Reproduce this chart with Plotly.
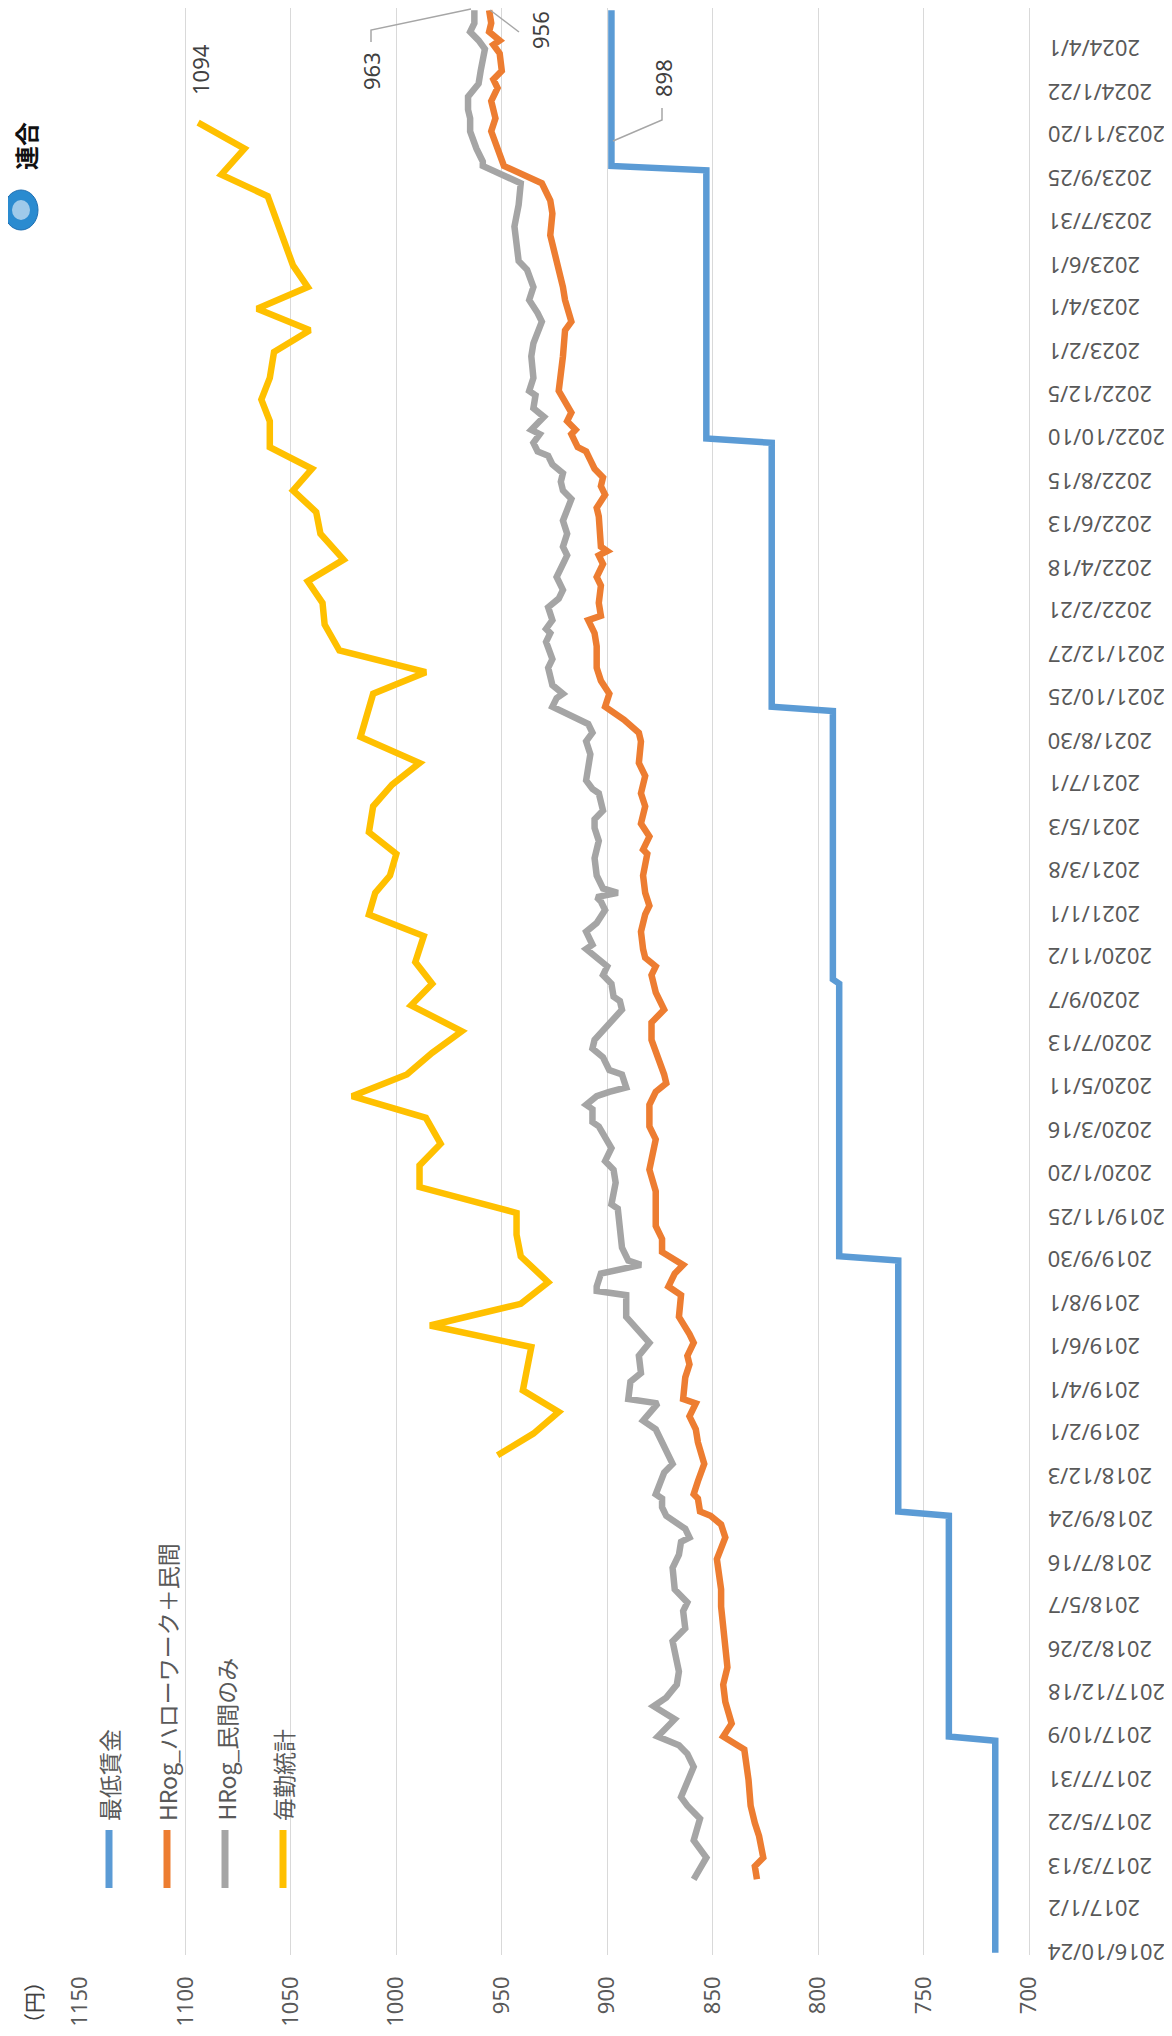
import plotly.graph_objects as go

# ---------------- data ----------------
tick_labels = ["2016/10/24", "2017/1/2", "2017/3/13", "2017/5/22", "2017/7/31", "2017/10/9",
               "2017/12/18", "2018/2/26", "2018/5/7", "2018/7/16", "2018/9/24", "2018/12/3",
               "2019/2/1", "2019/4/1", "2019/6/1", "2019/8/1", "2019/9/30", "2019/11/25",
               "2020/1/20", "2020/3/16", "2020/5/11", "2020/7/13", "2020/9/7", "2020/11/2",
               "2021/1/1", "2021/3/8", "2021/5/3", "2021/7/1", "2021/8/30", "2021/10/25",
               "2021/12/27", "2022/2/21", "2022/4/18", "2022/6/13", "2022/8/15", "2022/10/10",
               "2022/12/5", "2023/2/1", "2023/4/1", "2023/6/1", "2023/7/31", "2023/9/25",
               "2023/11/20", "2024/1/22", "2024/4/1"]
tick_idx = list(range(0, 450, 10))
n_categories = 450

value_ticks = [1150, 1100, 1050, 1000, 950, 900, 850, 800, 750, 700]

# 最低賃金 (category index, yen)
minwage_idx = [0, 49, 50, 101, 102, 160, 161, 224, 225, 287, 288, 349, 350, 412, 413, 449]
minwage_val = [716, 716, 738, 738, 762, 762, 790, 790, 793, 793, 822, 822, 853, 853, 898, 898]

# HRog_ハローワーク＋民間
hw_idx = [17, 20, 22, 27, 30, 34, 40, 47, 50, 53, 58, 62, 66, 71, 75, 80, 84, 91, 96, 99,
          101, 102, 105, 106, 109, 113, 118, 121, 124, 127, 128, 133, 136, 138, 141, 143, 147,
          152, 154, 157, 159, 162, 165, 168, 172, 176, 181, 188, 191, 196, 199, 201, 203, 207,
          211, 215, 218, 222, 226, 228, 230, 232, 236, 240, 242, 245, 249, 254, 255, 258, 261,
          265, 268, 272, 275, 280, 282, 285, 288, 291, 294, 297, 302, 305, 308, 309, 312, 316,
          318, 321, 323, 324, 325, 332, 334, 337, 339, 341, 343, 345, 347, 348, 350, 351, 352,
          354, 356, 359, 361, 369, 375, 377, 382, 385, 389, 392, 397, 402, 405, 409, 413, 421,
          424, 428, 431, 433, 435, 439, 441, 442, 444, 446, 449]
hw_val = [829, 830, 826, 828, 830, 832, 833, 835, 845, 841, 844, 845, 843, 844, 845, 846, 846, 848, 844, 846,
          851, 856, 857, 859, 857, 854, 857, 858, 861, 858, 864, 863, 861, 862, 859, 861, 866,
          865, 871, 868, 864, 874, 874, 877, 877, 877, 880, 877, 880, 880, 877, 872, 873, 876,
          879, 879, 873, 877, 879, 877, 882, 883, 884, 882, 880, 882, 883, 881, 883, 880, 884,
          882, 884, 882, 885, 884, 885, 892, 901, 899, 903, 905, 905, 906, 909, 903, 904, 903,
          905, 902, 904, 900, 903, 904, 905, 901, 903, 902, 906, 908, 910, 914, 916, 917, 915,
          919, 917, 921, 923, 921, 920, 917, 920, 921, 923, 924, 927, 926, 927, 931, 949, 955,
          953, 955, 952, 954, 950, 951, 954, 951, 956, 955, 956]

# HRog_民間のみ
pv_idx = [17, 22, 26, 31, 34, 36, 43, 46, 48, 50, 54, 57, 59, 62, 65, 69, 72, 75, 79, 81,
          84, 89, 92, 95, 96, 98, 101, 103, 105, 106, 111, 113, 117, 121, 123, 127, 128, 132,
          134, 138, 141, 143, 145, 147, 152, 153, 154, 157, 159, 160, 163, 168, 172, 173, 178,
          181, 183, 186, 189, 191, 192, 195, 196, 198, 199, 200, 203, 204, 207, 209, 211, 213,
          215, 218, 220, 221, 224, 226, 228, 232, 233, 236, 238, 241, 243, 244, 245, 246, 249,
          253, 257, 260, 262, 264, 268, 269, 271, 275, 277, 280, 282, 284, 288, 290, 291, 293,
          297, 299, 303, 305, 306, 308, 311, 313, 315, 318, 321, 323, 325, 328, 331, 336, 338,
          340, 342, 344, 346, 347, 349, 351, 352, 355, 357, 360, 361, 364, 369, 372, 377, 379,
          382, 385, 389, 391, 395, 399, 404, 409, 413, 414, 417, 421, 424, 426, 429, 430, 432,
          435, 440, 442, 444, 446, 449]
pv_val = [859, 853, 859, 856, 862, 865, 859, 862, 866, 876, 868, 878, 872, 867, 866, 868, 869, 863, 864, 862,
          868, 869, 866, 865, 861, 863, 872, 874, 874, 877, 873, 869, 873, 877, 883, 876, 890, 889,
          884, 885, 880, 884, 888, 891, 891, 905, 905, 903, 884, 890, 893, 894, 895, 898, 896,
          897, 901, 898, 902, 904, 907, 907, 910, 905, 899, 891, 893, 899, 902, 907, 906, 902,
          898, 893, 894, 897, 898, 902, 900, 910, 907, 910, 905, 901, 903, 905, 895, 902, 905,
          906, 904, 906, 906, 902, 904, 907, 910, 909, 908, 910, 907, 909, 926, 924, 921, 926,
          928, 926, 929, 927, 929, 926, 928, 923, 921, 924, 921, 919, 921, 919, 921, 917, 921,
          922, 921, 926, 928, 933, 935, 932, 936, 930, 935, 934, 937, 935, 936, 935, 931, 933,
          937, 935, 938, 942, 943, 944, 942, 941, 959, 959, 962, 965, 965, 966, 966, 964, 961,
          960, 958, 961, 965, 963, 963]

# 毎勤統計
mk_idx = [115, 120, 125, 130, 135, 140, 145, 150, 155, 161, 166, 171, 177, 182, 187, 193,
          198, 203, 208, 213, 219, 224, 229, 235, 240, 245, 249, 254, 259, 265, 270, 275, 281,
          286, 291, 296, 301, 307, 312, 317, 322, 328, 333, 338, 343, 348, 354, 359, 364, 370,
          375, 380, 385, 390, 395, 402, 406, 411, 417, 423]
mk_val = [952, 935, 923, 940, 938, 936, 984, 941, 928, 941, 943, 943, 989, 989, 979, 986,
          1021, 995, 983, 969, 993, 983, 991, 987, 1013, 1010, 1003, 1000, 1013, 1011, 1002, 989, 1017,
          1014, 1011, 986, 1027, 1034, 1035, 1042, 1025, 1036, 1038, 1049, 1040, 1060, 1060, 1064, 1060, 1058,
          1041, 1066, 1042, 1049, 1053, 1058, 1061, 1083, 1072, 1094]

series_names = ["最低賃金", "HRog_ハローワーク＋民間", "HRog_民間のみ", "毎勤統計"]
series_colors = ["#5B9BD5", "#ED7D31", "#A5A5A5", "#FFC000"]

# ---------------- layout geometry (pixels) ----------------
W, H = 1172, 2036
PL, PR, PT, PB = 72, 1021, 0, 1947


def px(p):
    return (p - PL) / (PR - PL)


def py(p):
    return (PB - p) / (PB - PT)


TXT = "#595959"
FONT_NUM = "Noto Sans"
FONT_JP = "Noto Sans CJK JP"

fig = go.Figure()
data = [(minwage_idx, minwage_val), (hw_idx, hw_val), (pv_idx, pv_val), (mk_idx, mk_val)]
for (idx, val), name, col in zip(data, series_names, series_colors):
    fig.add_trace(go.Scatter(x=val, y=idx, mode="lines", name=name,
                             line=dict(color=col, width=6.5), showlegend=False,
                             hoverinfo="skip"))

annotations = []
shapes = []

# category (date) labels on the right, upside-down
for i, lab in zip(tick_idx, tick_labels):
    annotations.append(dict(text=lab, xref="paper", yref="y", x=px(1038), y=i,
                            xanchor="left", yanchor="middle", textangle=180,
                            showarrow=False, font=dict(family=FONT_NUM, size=22, color=TXT)))

# unit label
annotations.append(dict(text="（円）", xref="paper", yref="paper", x=px(25), y=py(1995),
                        xanchor="center", yanchor="middle", textangle=-90, showarrow=False,
                        font=dict(family=FONT_JP, size=21, color="#404040")))

# legend (built by hand, rotated)
leg_x = [101, 159, 217, 275]
for lx, name, col in zip(leg_x, series_names, series_colors):
    shapes.append(dict(type="line", xref="paper", yref="paper", x0=px(lx), x1=px(lx),
                       y0=py(1822), y1=py(1880), line=dict(color=col, width=7)))
    annotations.append(dict(text=name, xref="paper", yref="paper", x=px(lx), y=py(1815),
                            xanchor="center", yanchor="bottom", textangle=-90, showarrow=False,
                            font=dict(family=FONT_JP, size=23, color=TXT)))

# data labels at series ends
labels = [("1094", 192, 62), ("963", 363, 63), ("956", 532, 22), ("898", 655, 70)]
for t, cx, cy in labels:
    annotations.append(dict(text=t, xref="paper", yref="paper", x=px(cx), y=py(cy),
                            xanchor="center", yanchor="middle", textangle=-90, showarrow=False,
                            font=dict(family=FONT_NUM, size=22, color="#404040")))

leaders = [[(363, 34), (363, 22), (463, 1)],
           [(482, 2), (511, 24)],
           [(654, 100), (654, 112), (605, 133)]]
for pts in leaders:
    path = "M " + " L ".join(f"{px(a):.5f},{py(b):.5f}" for a, b in pts)
    shapes.append(dict(type="path", xref="paper", yref="paper", path=path,
                       line=dict(color="#A6A6A6", width=1.5)))

# logo (連合)
shapes.append(dict(type="circle", xref="paper", yref="paper", x0=px(-4), x1=px(30),
                   y0=py(222), y1=py(182), fillcolor="#2A8BD0", line=dict(color="#1F6FB2", width=1)))
shapes.append(dict(type="circle", xref="paper", yref="paper", x0=px(4), x1=px(22),
                   y0=py(212), y1=py(192), fillcolor="rgba(255,255,255,0.55)", line=dict(width=0)))
annotations.append(dict(text="<b>連合</b>", xref="paper", yref="paper", x=px(17), y=py(138),
                        xanchor="center", yanchor="middle", textangle=-90, showarrow=False,
                        font=dict(family=FONT_JP, size=24, color="#111111")))

fig.update_layout(
    width=W, height=H,
    margin=dict(l=PL, r=W - PR, t=PT, b=H - PB, pad=0),
    plot_bgcolor="white", paper_bgcolor="white",
    showlegend=False,
    xaxis=dict(range=[1150, 700], tickvals=value_ticks, ticktext=[str(v) for v in value_ticks],
               tickangle=-90, showgrid=True, gridcolor="#D9D9D9", gridwidth=1.3,
               zeroline=False, showline=False, ticks="", ticklabelstandoff=16,
               tickfont=dict(family=FONT_NUM, size=22, color=TXT)),
    yaxis=dict(range=[-0.5, n_categories - 0.5], showticklabels=False, showgrid=False,
               zeroline=False, side="right", showline=True, linecolor="#D9D9D9", linewidth=1.3,
               ticks=""),
    annotations=annotations,
    shapes=shapes,
)

fig.write_html("out.html")
